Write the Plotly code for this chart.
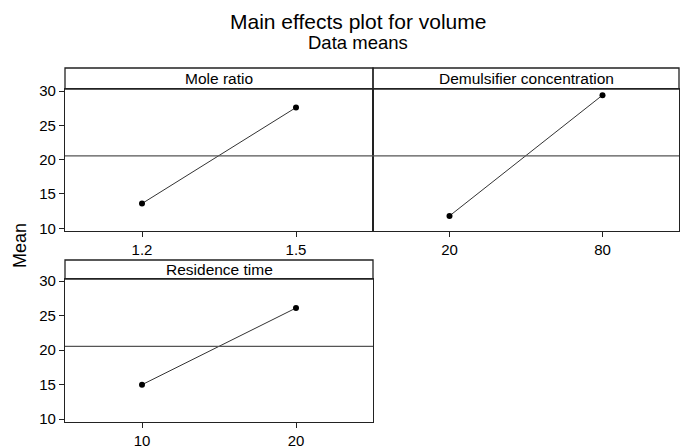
import plotly.graph_objects as go

# ---- data ----
factors = ["Mole ratio", "Demulsifier concentration", "Residence time"]
mole_ratio_levels = [1.2, 1.5]
mole_ratio_means = [13.6, 27.6]
demulsifier_levels = [20, 80]
demulsifier_means = [11.8, 29.4]
residence_levels = [10, 20]
residence_means = [15.0, 26.1]
grand_mean = 20.55
y_ticks = [10, 15, 20, 25, 30]

W, H = 688, 446
FONT = "Liberation Sans, Arial, Helvetica, sans-serif"

def px(x):
    return x / W

def py(y):
    return (H - y) / H

fig = go.Figure()

levels = [mole_ratio_levels, demulsifier_levels, residence_levels]
means = [mole_ratio_means, demulsifier_means, residence_means]
axes = [("x", "y"), ("x2", "y2"), ("x3", "y3")]

for (xa, ya), lv, mn in zip(axes, levels, means):
    fig.add_trace(go.Scatter(
        x=lv, y=mn, xaxis=xa, yaxis=ya, mode="lines+markers",
        line=dict(color="#333333", width=1),
        marker=dict(color="black", size=6),
        showlegend=False, hoverinfo="skip"))

# panel pixel geometry (left, right, header_top, data_top, data_bottom)
panels = [
    (65, 373, 68, 89, 231),
    (373, 679, 68, 89, 231),
    (65, 373, 260, 279, 422),
]

def xrange_for(lv):
    span = lv[1] - lv[0]
    return [lv[0] - span / 2, lv[1] + span / 2]

yr = [9.6, 30.3]
axis_common = dict(showline=True, linecolor="#222222", linewidth=1.3, mirror=True,
                   showgrid=False, zeroline=False, automargin=False,
                   tickfont=dict(family=FONT, size=15, color="black"),
                   ticks="outside", ticklen=5, tickcolor="#222222")

layout = dict(width=W, height=H, margin=dict(l=0, r=0, t=0, b=0, autoexpand=False),
              plot_bgcolor="white", paper_bgcolor="white", showlegend=False)

names = ["", "2", "3"]
for i, ((l, r, ht, dt, db), lv) in enumerate(zip(panels, levels)):
    n = names[i]
    layout["xaxis" + n] = dict(domain=[px(l), px(r)], range=xrange_for(lv),
                               tickvals=lv, ticktext=[str(v) for v in lv],
                               anchor="y" + n, **axis_common)
    yax = dict(domain=[py(db), py(dt)], range=yr, tickvals=y_ticks,
               anchor="x" + n, **axis_common)
    if i == 1:
        yax["showticklabels"] = False
        yax["ticks"] = ""
    layout["yaxis" + n] = yax

fig.update_layout(**layout)

shapes = []
annotations = []
for i, (l, r, ht, dt, db) in enumerate(panels):
    n = names[i]
    # header strip
    shapes.append(dict(type="rect", xref="paper", yref="paper",
                       x0=px(l), x1=px(r), y0=py(dt), y1=py(ht),
                       line=dict(color="#222222", width=1.3), fillcolor="rgba(0,0,0,0)"))
    annotations.append(dict(text=factors[i], xref="paper", yref="paper",
                            x=(px(l) + px(r)) / 2, y=(py(dt) + py(ht)) / 2,
                            showarrow=False, xanchor="center", yanchor="middle",
                            font=dict(family=FONT, size=15.5, color="black")))
    # grand mean reference line
    shapes.append(dict(type="line", xref="x" + n + " domain", yref="y" + n,
                       x0=0, x1=1, y0=grand_mean, y1=grand_mean,
                       line=dict(color="#555555", width=1.4)))

annotations.append(dict(text="Main effects plot for volume", xref="paper", yref="paper",
                        x=px(358), y=py(21), showarrow=False, xanchor="center", yanchor="middle",
                        font=dict(family=FONT, size=21, color="black")))
annotations.append(dict(text="Data means", xref="paper", yref="paper",
                        x=px(358), y=py(43), showarrow=False, xanchor="center", yanchor="middle",
                        font=dict(family=FONT, size=18.5, color="black")))
annotations.append(dict(text="Mean", xref="paper", yref="paper",
                        x=px(20), y=py(246), showarrow=False, textangle=-90,
                        xanchor="center", yanchor="middle",
                        font=dict(family=FONT, size=18, color="black")))

fig.update_layout(shapes=shapes, annotations=annotations)
fig.write_html("out.html", config={"displayModeBar": False},
               post_script="document.body.style.margin='0px';")
